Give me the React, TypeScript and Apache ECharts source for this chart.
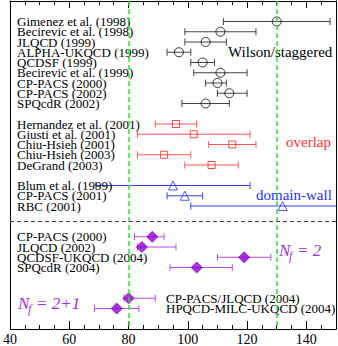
import React, { useEffect, useRef } from 'react';
import * as echarts from 'echarts';

// ---- data ----
const wilsonNames = ['Gimenez et al. (1998)', 'Becirevic et al. (1998)', 'JLQCD (1999)', 'ALPHA-UKQCD (1999)', 'QCDSF (1999)', 'Becirevic et al. (1999)', 'CP-PACS (2000)', 'CP-PACS (2002)', 'SPQcdR (2002)'];
const wilsonValues = [130, 111, 106, 97, 105, 111, 110, 114, 106];
const wilsonLow = [112, 99, 99, 93, 101, 102, 106, 110, 98];
const wilsonHigh = [148, 123, 113, 101, 109, 120, 113, 120, 114];

const overlapNames = ['Hernandez et al. (2001)', 'Giusti et al. (2001)', 'Chiu-Hsieh (2001)', 'Chiu-Hsieh (2003)', 'DeGrand (2003)'];
const overlapValues = [96, 102, 115, 92, 108];
const overlapLow = [89, 83, 107, 83, 99];
const overlapHigh = [103, 121, 123, 101, 117];

const dwNames = ['Blum et al. (1999)', 'CP-PACS (2001)', 'RBC (2001)'];
const dwValues = [95, 99, 132];
const dwLow = [69, 93, 101];
const dwHigh = [121, 105, 163];

const nf2Names = ['CP-PACS (2000)', 'JLQCD (2002)', 'QCDSF-UKQCD (2004)', 'SPQcdR (2004)'];
const nf2Values = [88, 84.5, 119, 103];
const nf2Low = [82, 83, 110, 94];
const nf2High = [92, 96, 128, 115];

const nf21Names = ['CP-PACS/JLQCD (2004)', 'HPQCD-MILC-UKQCD (2004)'];
const nf21Values = [80, 76];
const nf21Low = [78.5, 68.5];
const nf21High = [89, 83.5];

// row index where each group starts (categorical row order)
const wilsonStart = 0;
const overlapStart = 10;
const dwStart = 16;
const nf2Start = 21;
const nf21Start = 27;
const separatorRow = 19.5;
const referenceLines = [80, 130];

const xTicks = [40, 60, 80, 100, 120, 140];

const FONT = 'Liberation Serif';

function errorBars(low: number[], high: number[], start: number, color: string, width = 1) {
  return {
    type: 'custom',
    clip: true,
    z: 2,
    silent: true,
    data: low.map((l, i) => [l, high[i], start + i]),
    encode: { x: [0, 1], y: 2 },
    renderItem: (params: any, api: any) => {
      const a = api.coord([api.value(0), api.value(2)]);
      const b = api.coord([api.value(1), api.value(2)]);
      const cap = 3.5;
      const style = { stroke: color, lineWidth: width, fill: 'none' };
      return {
        type: 'group',
        children: [
          { type: 'line', shape: { x1: a[0], y1: a[1], x2: b[0], y2: b[1] }, style },
          { type: 'line', shape: { x1: a[0], y1: a[1] - cap, x2: a[0], y2: a[1] + cap }, style },
          { type: 'line', shape: { x1: b[0], y1: b[1] - cap, x2: b[0], y2: b[1] + cap }, style },
        ],
      };
    },
  };
}

function markers(values: number[], start: number, symbol: string, size: number, color: string, fill?: string) {
  return {
    type: 'scatter',
    z: 3,
    silent: true,
    symbol,
    symbolSize: size,
    data: values.map((v, i) => [v, start + i]),
    itemStyle: fill
      ? { color: fill, borderColor: color, borderWidth: 1 }
      : { color, borderColor: color, borderWidth: 1 },
  };
}

function labels(names: string[], start: number, dx: number) {
  return {
    type: 'custom',
    z: 4,
    silent: true,
    clip: false,
    data: names.map((_, i) => [40, start + i]),
    encode: { x: 0, y: 1 },
    renderItem: (params: any, api: any) => {
      const p = api.coord([api.value(0), api.value(1)]);
      return {
        type: 'text',
        x: params.coordSys.x + dx,
        y: p[1],
        style: {
          text: names[params.dataIndex],
          fill: '#000',
          fontFamily: FONT,
          fontSize: 13,
          lineHeight: 10,
          align: 'left',
          verticalAlign: 'middle',
        },
      };
    },
  };
}

function nfLabel(x: number, y: number, rest: string, color: string) {
  const base = { fill: color, fontFamily: FONT, fontStyle: 'italic', verticalAlign: 'middle' };
  return [
    { type: 'text', x, y, style: { ...base, text: 'N', fontSize: 17 } },
    { type: 'text', x: x + 10, y: y + 6, style: { ...base, text: 'f', fontSize: 12 } },
    { type: 'text', x: x + 18, y, style: { ...base, text: rest, fontSize: 17 } },
  ];
}

export default function App() {
  const ref = useRef<HTMLDivElement>(null);
  useEffect(() => {
    if (!ref.current) return;
    const chart = echarts.init(ref.current, null, { renderer: 'svg' });
    const baseX = {
      type: 'value',
      min: 40,
      max: 150,
      splitLine: { show: false },
    };
    const purple = '#9400d3';
    const purpleBar = '#b84ce8';
    chart.setOption({
      animation: false,
      backgroundColor: '#fff',
      grid: { left: 7, right: 2, top: 1, bottom: 16, containLabel: false },
      xAxis: [
        {
          ...baseX,
          position: 'bottom',
          interval: 20,
          axisLine: { show: true, onZero: false, lineStyle: { color: '#000', width: 1 } },
          axisTick: { show: true, inside: true, length: 8, lineStyle: { color: '#000' } },
          axisLabel: {
            color: '#000',
            fontFamily: FONT,
            fontSize: 14,
            margin: 3,
            showMaxLabel: false,
            formatter: (v: number) => (xTicks.includes(v) ? String(v) : ''),
          },
        },
        {
          ...baseX,
          position: 'bottom',
          interval: 5,
          axisLine: { show: false, onZero: false },
          axisTick: { show: true, inside: true, length: 4, lineStyle: { color: '#000' } },
          axisLabel: { show: false },
        },
        {
          ...baseX,
          position: 'top',
          interval: 20,
          axisLine: { show: true, onZero: false, lineStyle: { color: '#000', width: 1 } },
          axisTick: { show: true, inside: true, length: 7, lineStyle: { color: '#000' } },
          axisLabel: { show: false },
        },
        {
          ...baseX,
          position: 'top',
          interval: 5,
          axisLine: { show: false, onZero: false },
          axisTick: { show: true, inside: true, length: 4, lineStyle: { color: '#000' } },
          axisLabel: { show: false },
        },
      ],
      yAxis: [
        {
          type: 'value',
          min: -2,
          max: 30,
          inverse: true,
          position: 'left',
          axisLine: { show: true, onZero: false, lineStyle: { color: '#000', width: 1 } },
          axisTick: { show: false },
          axisLabel: { show: false },
          splitLine: { show: false },
        },
        {
          type: 'value',
          min: -2,
          max: 30,
          inverse: true,
          position: 'right',
          axisLine: { show: true, onZero: false, lineStyle: { color: '#000', width: 1 } },
          axisTick: { show: false },
          axisLabel: { show: false },
          splitLine: { show: false },
        },
      ],
      series: [
        {
          type: 'scatter',
          data: [],
          z: 1,
          silent: true,
          markLine: {
            silent: true,
            symbol: ['none', 'none'],
            label: { show: false },
            lineStyle: { color: '#33dd33', type: [5, 3], width: 1.5 },
            data: [
              ...referenceLines.map((v) => ({ xAxis: v })),
              { yAxis: separatorRow, lineStyle: { color: '#444', type: [4, 3], width: 1 } },
            ],
          },
        },
        errorBars(wilsonLow, wilsonHigh, wilsonStart, '#444'),
        markers(wilsonValues, wilsonStart, 'circle', 9, '#000', 'rgba(255,255,255,0)'),
        labels(wilsonNames, wilsonStart, 7),
        errorBars(overlapLow, overlapHigh, overlapStart, '#ff5555'),
        markers(overlapValues, overlapStart, 'rect', 7, '#ee2020', 'rgba(255,255,255,0)'),
        labels(overlapNames, overlapStart, 7),
        errorBars(dwLow, dwHigh, dwStart, '#3344ee'),
        markers(dwValues, dwStart, 'triangle', 9, '#2233ee', 'rgba(255,255,255,0)'),
        labels(dwNames, dwStart, 7),
        errorBars(nf2Low, nf2High, nf2Start, purpleBar),
        markers(nf2Values, nf2Start, 'diamond', 11, purple),
        labels(nf2Names, nf2Start, 7),
        errorBars(nf21Low, nf21High, nf21Start, purpleBar),
        markers(nf21Values, nf21Start, 'diamond', 11, purple),
        labels(nf21Names, nf21Start, 156),
      ],
      graphic: [
        { type: 'text', x: 228, y: 52, style: { text: 'Wilson/staggered', fill: '#000', fontFamily: FONT, fontSize: 15, verticalAlign: 'middle' } },
        { type: 'text', x: 286, y: 142, style: { text: 'overlap', fill: '#ff3030', fontFamily: FONT, fontSize: 15, verticalAlign: 'middle' } },
        { type: 'text', x: 256, y: 195, style: { text: 'domain-wall', fill: '#2233ff', fontFamily: FONT, fontSize: 15, verticalAlign: 'middle' } },
        ...nfLabel(279, 250, '= 2', '#a030e0'),
        ...nfLabel(18, 303, '= 2+1', '#a030e0'),
      ],
    });
    return () => chart.dispose();
  }, []);
  return <div ref={ref} style={{ position: 'fixed', left: 0, top: 0, width: 338, height: 346 }} />;
}
